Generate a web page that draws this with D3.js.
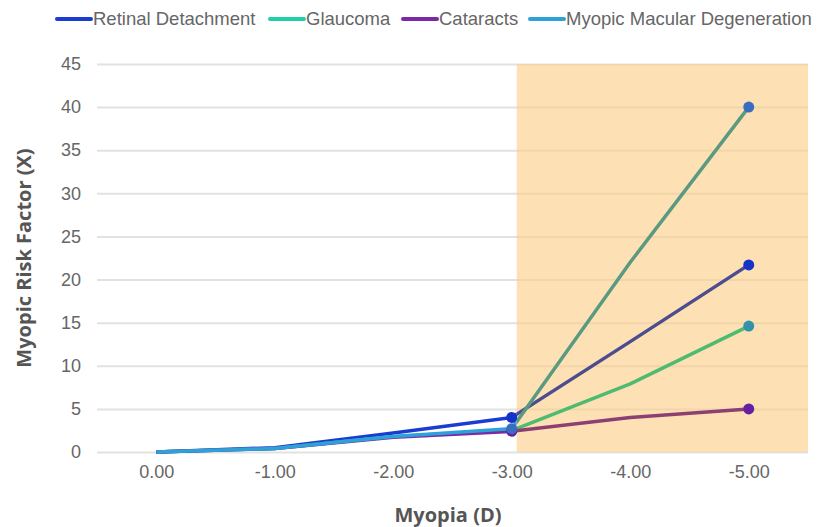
<!DOCTYPE html>
<meta charset="utf-8">
<style>
body { margin: 0; background: #fff; }
svg { font-family: "Liberation Sans", Arial, sans-serif; }
.title { font-family: "Open Sans", "Noto Sans", sans-serif; font-weight: 700; fill: #555; }
</style>
<svg width="823" height="527"></svg>
<script src="https://d3js.org/d3.v7.min.js"></script>
<script>

// 数据
var categories = ["0.00", "-1.00", "-2.00", "-3.00", "-4.00", "-5.00"];
var seriesNames = ["Retinal Detachment", "Glaucoma", "Cataracts", "Myopic Macular Degeneration"];
var retinal   = [0, 0.5, 2.2, 4.0, 12.8, 21.7];
var glaucoma  = [0, 0.4, 1.8, 2.5, 7.9, 14.6];
var cataracts = [0, 0.4, 1.7, 2.4, 4.0, 5.0];
var mmd       = [0, 0.4, 1.8, 2.7, 22.0, 40.0];
var yTicks = [0, 5, 10, 15, 20, 25, 30, 35, 40, 45];
var markerAt = ["-3.00", "-5.00"];

var colors      = ["#1a3cd0", "#20cfa5", "#7a2aa8", "#2ea2d6"];
var shadeColors = ["#4c4c8e", "#4fbb70", "#8e3f72", "#5a9a80"];
var dotColors   = ["#1234c8", "#3292aa", "#6420a0", "#3a6cc0"];

var svg = d3.select("svg"),
    margin = {left: 97, right: 15, top: 64, bottom: 75},
    width = +svg.attr("width"),
    height = +svg.attr("height");

var x = d3.scalePoint()
    .domain(categories)
    .range([margin.left, width - margin.right])
    .padding(0.5);

var y = d3.scaleLinear()
    .domain([0, 45])
    .range([height - margin.bottom, margin.top]);

var series = [retinal, glaucoma, cataracts, mmd].map(function(v, i) {
  return {name: seriesNames[i], values: v, color: colors[i], shade: shadeColors[i], dot: dotColors[i]};
});

// 网格线
svg.append("g")
    .attr("transform", "translate(" + margin.left + ",0)")
    .call(d3.axisLeft(y).tickValues(yTicks).tickSize(-(width - margin.left - margin.right)).tickPadding(16))
    .call(function(g) { g.select(".domain").remove(); })
    .call(function(g) { g.selectAll(".tick line").attr("stroke", "#e2e2e2").attr("stroke-width", 2); })
    .call(function(g) { g.selectAll(".tick text").attr("fill", "#666").style("font-size", "18px"); });

svg.append("g")
    .attr("transform", "translate(0," + y(0) + ")")
    .call(d3.axisBottom(x).tickSize(0).tickPadding(13))
    .call(function(g) { g.select(".domain").remove(); })
    .call(function(g) { g.selectAll(".tick text").attr("fill", "#666").style("font-size", "18px"); });

var line = d3.line()
    .x(function(d, i) { return x(categories[i]); })
    .y(function(d) { return y(d); });

// 阴影区域
var shadeX = x("-3.00") + 5;

svg.append("clipPath").attr("id", "left")
  .append("rect")
    .attr("x", 0).attr("y", 0)
    .attr("width", shadeX).attr("height", height);

svg.append("clipPath").attr("id", "right")
  .append("rect")
    .attr("x", shadeX).attr("y", 0)
    .attr("width", width - shadeX).attr("height", height);

svg.append("g").attr("clip-path", "url(#left)")
  .selectAll("path")
  .data(series)
  .enter().append("path")
    .attr("fill", "none")
    .attr("stroke", function(d) { return d.color; })
    .attr("stroke-width", 3.5)
    .attr("stroke-linejoin", "round")
    .attr("d", function(d) { return line(d.values); });

svg.append("rect")
    .attr("x", shadeX)
    .attr("y", y(45))
    .attr("width", width - margin.right - shadeX)
    .attr("height", y(0) - y(45))
    .attr("fill", "#fbcf86")
    .attr("fill-opacity", 0.62);

svg.append("g").attr("clip-path", "url(#right)")
  .selectAll("path")
  .data(series)
  .enter().append("path")
    .attr("fill", "none")
    .attr("stroke", function(d) { return d.shade; })
    .attr("stroke-width", 3.5)
    .attr("stroke-linejoin", "round")
    .attr("d", function(d) { return line(d.values); });

// 标记点
series.forEach(function(s) {
  svg.append("g").selectAll("circle")
    .data(markerAt)
    .enter().append("circle")
      .attr("cx", function(c) { return x(c); })
      .attr("cy", function(c) { return y(s.values[categories.indexOf(c)]); })
      .attr("r", 5.5)
      .attr("fill", s.dot);
});

// 图例
var legendX = [57, 270, 403, 530];
var legend = svg.append("g").selectAll("g")
    .data(series)
    .enter().append("g")
      .attr("transform", function(d, i) { return "translate(" + legendX[i] + ",19)"; });

legend.append("line")
    .attr("x1", 0).attr("x2", 34)
    .attr("stroke", function(d) { return d.color; })
    .attr("stroke-width", 4)
    .attr("stroke-linecap", "round");

legend.append("text")
    .attr("x", 36)
    .attr("dy", "0.35em")
    .attr("fill", "#666")
    .style("font-size", "18.5px")
    .text(function(d) { return d.name; });

// 坐标轴标题
svg.append("text")
    .attr("class", "title")
    .attr("transform", "translate(31," + ((y(0) + y(45)) / 2) + ") rotate(-90)")
    .attr("text-anchor", "middle")
    .style("font-size", "20px")
    .text("Myopic Risk Factor (X)");

svg.append("text")
    .attr("class", "title")
    .attr("x", 448)
    .attr("y", 522)
    .attr("text-anchor", "middle")
    .style("font-size", "20px")
    .text("Myopia (D)");

</script>
